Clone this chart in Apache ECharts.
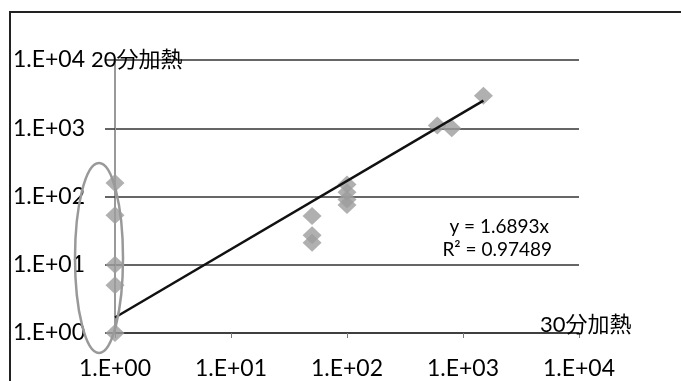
<!DOCTYPE html>
<html><head><meta charset="utf-8">
<script src="https://cdn.jsdelivr.net/npm/echarts@6/dist/echarts.min.js"></script>
<style>html,body{margin:0;padding:0;background:#fff}#c{width:681px;height:381px}</style>
</head><body><div id="c"></div>
<script>
// Data (log–log scatter)
const xTickLabels = ['1.E+00','1.E+01','1.E+02','1.E+03','1.E+04'];
const yTickLabels = ['1.E+00','1.E+01','1.E+02','1.E+03','1.E+04'];
const xValues30min = [1, 1, 1, 1, 1, 50, 50, 50, 100, 100, 100, 100, 600, 800, 1500];
const yValues20min = [158, 53, 10, 5, 1, 52, 27, 21, 150, 115, 90, 75, 1100, 1000, 3000];
const trendSlope = 1.6893;
const trendLabel1 = 'y = 1.6893x';
const trendLabel2 = 'R² = 0.97489';
const xAxisName = '30分加熱';
const yAxisName = '20分加熱';

const points = xValues30min.map((x, i) => [x, yValues20min[i]]);
const xMin = Math.min(...xValues30min), xMax = Math.max(...xValues30min);
const trend = [[xMin, trendSlope * xMin], [xMax, trendSlope * xMax]];

const FONT = "Lato, 'Noto Sans CJK JP', sans-serif";
const fmt = v => { const e = Math.round(Math.log10(v)); return '1.E+' + String(e).padStart(2, '0'); };

const chart = echarts.init(document.getElementById('c'), null, {renderer: 'canvas'});
chart.setOption({
  animation: false,
  backgroundColor: '#fff',
  grid: {left: 115, right: 102, top: 60, bottom: 48},
  xAxis: {
    type: 'log', logBase: 10, min: 1, max: 10000,
    axisLine: {lineStyle: {color: '#333', width: 1.5}},
    axisTick: {show: true, length: 5, lineStyle: {color: '#777'}},
    axisLabel: {formatter: fmt, fontFamily: FONT, fontSize: 23, color: '#000', margin: 24},
    splitLine: {show: false}
  },
  yAxis: {
    type: 'log', logBase: 10, min: 1, max: 10000,
    axisLine: {lineStyle: {color: '#999', width: 2}},
    axisTick: {show: true, length: 10, lineStyle: {color: '#333', width: 1.5}},
    axisLabel: {formatter: fmt, fontFamily: FONT, fontSize: 23, color: '#000', margin: 30},
    splitLine: {show: true, lineStyle: {color: '#333', width: 1.5}}
  },
  series: [
    {
      type: 'scatter', data: points, symbol: 'diamond', symbolSize: [19, 18],
      itemStyle: {color: '#9c9c9c'}, z: 3
    },
    {
      type: 'line', data: trend, showSymbol: false, symbol: 'none',
      lineStyle: {color: '#111', width: 2.5}, z: 4, silent: true
    }
  ]
});

function drawOverlay() {
  const p = (x, y) => chart.convertToPixel({gridIndex: 0}, [x, y]);
  const top = p(1, Math.max(...yValues20min.filter((v, i) => xValues30min[i] === 1)));
  const bot = p(1, 1);
  const cx = bot[0] - 16, cy = (top[1] - 20 + bot[1] + 20) / 2;
  const ry = (bot[1] + 20 - (top[1] - 20)) / 2;
  const yEnd = p(1, 10000);
  const xEnd = p(10000, 1);
  chart.setOption({
    graphic: [
      {type: 'rect', shape: {x: 10, y: 12, width: 700, height: 400}, style: {fill: 'none', stroke: '#222', lineWidth: 2}, z: 10},
      {type: 'ellipse', shape: {cx: cx, cy: cy, rx: 24, ry: ry}, style: {fill: 'none', stroke: '#999', lineWidth: 2.5}, z: 10},
      {type: 'text', x: yEnd[0] - 24, y: yEnd[1], style: {text: yAxisName, font: "22px " + FONT, fill: '#000', align: 'left', verticalAlign: 'middle'}, z: 10},
      {type: 'text', x: xEnd[0] - 39, y: xEnd[1] - 8, style: {text: xAxisName, font: "22px " + FONT, fill: '#000', align: 'left', verticalAlign: 'middle'}, z: 10},
      {type: 'text', x: 549, y: 227, style: {text: trendLabel1, font: "19px " + FONT, fill: '#000', align: 'right', verticalAlign: 'middle'}, z: 10},
      {type: 'text', x: 552, y: 250, style: {text: trendLabel2, font: "19px " + FONT, fill: '#000', align: 'right', verticalAlign: 'middle'}, z: 10}
    ]
  });
}
drawOverlay();
</script></body></html>
